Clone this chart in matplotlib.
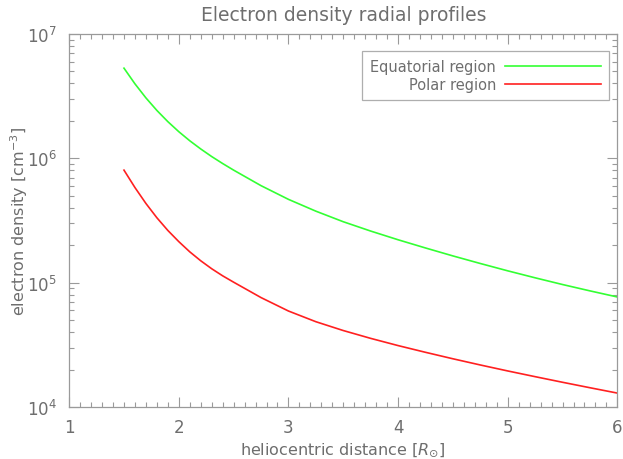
import matplotlib
matplotlib.use("Agg")
import matplotlib.pyplot as plt
from matplotlib.ticker import MultipleLocator, LogLocator, NullFormatter, FixedLocator

# Data
eq_r = [1.5, 1.6, 1.7, 1.8, 1.9, 2.0, 2.1, 2.2, 2.3, 2.4, 2.5, 2.75, 3.0, 3.25, 3.5,
        3.75, 4.0, 4.25, 4.5, 4.75, 5.0, 5.25, 5.5, 5.75, 6.0]
eq_n = [5.309e6, 3.972e6, 3.062e6, 2.427e6, 1.972e6, 1.637e6, 1.384e6, 1.189e6, 1.033e6,
        9.078e5, 8.035e5, 6.026e5, 4.677e5, 3.758e5, 3.090e5, 2.600e5, 2.213e5, 1.901e5,
        1.641e5, 1.426e5, 1.245e5, 1.094e5, 9.66e4, 8.59e4, 7.67e4]
po_r = [1.5, 1.6, 1.7, 1.8, 1.9, 2.0, 2.1, 2.2, 2.3, 2.4, 2.5, 2.75, 3.0, 3.25, 3.5,
        3.75, 4.0, 4.25, 4.5, 4.75, 5.0, 5.25, 5.5, 5.75, 6.0]
po_n = [8.035e5, 5.821e5, 4.335e5, 3.327e5, 2.630e5, 2.138e5, 1.770e5, 1.500e5, 1.294e5,
        1.135e5, 1.009e5, 7.586e4, 5.916e4, 4.853e4, 4.121e4, 3.565e4, 3.119e4, 2.754e4,
        2.443e4, 2.178e4, 1.950e4, 1.754e4, 1.581e4, 1.429e4, 1.294e4]
x_ticks = [1, 2, 3, 4, 5, 6]
y_ticks = [1e4, 1e5, 1e6, 1e7]
y_ticklabels = [r"$10^4$", r"$10^5$", r"$10^6$", r"$10^7$"]

gray = "#6e6e6e"
axc = "#9a9a9a"

fig = plt.figure(figsize=(6.23, 4.60), dpi=100)
ax = fig.add_axes([0.111, 0.113, 0.880, 0.811])

ax.plot(eq_r, eq_n, color="#33ff33", lw=1.2, label="Equatorial region")
ax.plot(po_r, po_n, color="#ff2020", lw=1.2, label="Polar region")

ax.set_yscale("log")
ax.set_xlim(1, 6)
ax.set_ylim(1e4, 1e7)

ax.xaxis.set_major_locator(FixedLocator(x_ticks))
ax.xaxis.set_minor_locator(MultipleLocator(0.1))
ax.set_xticklabels([str(v) for v in x_ticks])
ax.yaxis.set_major_locator(FixedLocator(y_ticks))
ax.set_yticklabels(y_ticklabels)
ax.yaxis.set_minor_locator(LogLocator(base=10, subs=range(2, 10)))
ax.yaxis.set_minor_formatter(NullFormatter())

ax.tick_params(which="both", direction="in", top=True, right=True, colors=axc,
               labelcolor=gray, labelsize=12, width=0.8)
ax.tick_params(which="major", length=7)
ax.tick_params(axis="x", which="major", pad=8)
ax.tick_params(axis="y", which="major", pad=9)
ax.tick_params(which="minor", length=3.5)
for s in ax.spines.values():
    s.set_color(axc)
    s.set_linewidth(0.9)

ax.set_title("Electron density radial profiles", color=gray, fontsize=13.5, pad=10)
ax.set_xlabel(r"heliocentric distance [$R_{\odot}$]", color=gray, fontsize=11.5)
ax.set_ylabel(r"electron density [cm$^{-3}$]", color=gray, fontsize=11.5)
ax.xaxis.set_label_coords(0.5, -0.088)
ax.yaxis.set_label_coords(-0.072, 0.5)

leg = ax.legend(loc="upper right", bbox_to_anchor=(0.985, 0.954), markerfirst=False,
                frameon=True, fancybox=False, fontsize=10.5, labelcolor=gray,
                handlelength=6.6, handletextpad=0.6, borderpad=0.55, labelspacing=0.2,
                borderaxespad=0.0)
leg.get_frame().set_edgecolor(axc)
leg.get_frame().set_linewidth(0.9)

fig.savefig("out.png", dpi=100)
